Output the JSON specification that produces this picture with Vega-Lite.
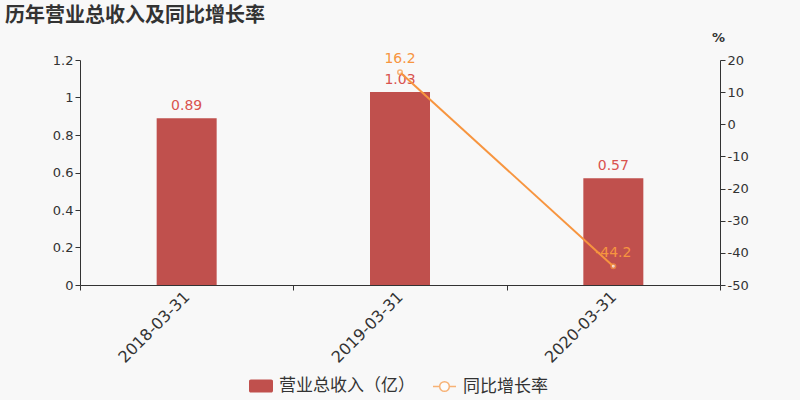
{
  "$schema": "https://vega.github.io/schema/vega-lite/v6.json",
  "autosize": "none",
  "width": 640,
  "height": 225,
  "padding": {"left": 80, "top": 60, "right": 80, "bottom": 115},
  "background": "#f8f8f8",
  "config": {
    "view": {"stroke": null},
    "font": "DejaVu Sans",
    "axis": {"labelColor": "#333", "domainColor": "#333", "tickColor": "#333", "labelFontSize": 13, "grid": false}
  },
  "title": {
    "text": "历年营业总收入及同比增长率",
    "anchor": "start",
    "frame": "group",
    "dx": -75,
    "offset": 5,
    "fontSize": 20,
    "fontWeight": "bold",
    "color": "#333",
    "font": "Noto Sans CJK SC"
  },
  "data": {
    "values": [
      {"date": "2018-03-31", "revenue": 0.89, "growth": null},
      {"date": "2019-03-31", "revenue": 1.03, "growth": 16.2},
      {"date": "2020-03-31", "revenue": 0.57, "growth": -44.2}
    ]
  },
  "encoding": {
    "x": {
      "field": "date",
      "type": "nominal",
      "title": null,
      "scale": {"paddingInner": 0, "paddingOuter": 0},
      "axis": {"labelAngle": -45, "labelAlign": "right", "labelBaseline": "middle", "labelFontSize": 16, "tickBand": "extent", "labelPadding": 4, "tickSize": 5}
    }
  },
  "layer": [
    {
      "encoding": {
        "y": {"field": "revenue", "type": "quantitative", "title": null, "scale": {"domain": [0, 1.2]}, "axis": {"orient": "left", "values": [0, 0.2, 0.4, 0.6, 0.8, 1, 1.2], "format": ".1~f", "tickSize": 5}}
      },
      "layer": [
        {
          "mark": {"type": "bar", "width": 60},
          "encoding": {
            "color": {"datum": "营业总收入（亿）", "scale": {"range": ["#c0504d"]}, "legend": {"orient": "none", "legendX": 169, "legendY": 314, "title": null, "symbolType": "M-0.85,-0.54 H0.85 A0.15,0.15 0 0 1 1,-0.39 V0.39 A0.15,0.15 0 0 1 0.85,0.54 H-0.85 A0.15,0.15 0 0 1 -1,0.39 V-0.39 A0.15,0.15 0 0 1 -0.85,-0.54 Z", "symbolSize": 576, "symbolStrokeWidth": 0, "symbolOpacity": 1, "labelFontSize": 17, "labelColor": "#333", "labelFont": "Noto Sans CJK SC", "labelOffset": 6, "padding": 0}}
          }
        },
        {
          "mark": {"type": "text", "baseline": "bottom", "dy": -5, "fontSize": 14, "color": "#d9534f"},
          "encoding": {
            "text": {"field": "revenue", "type": "nominal"}
          }
        }
      ]
    },
    {
      "encoding": {
        "y": {"field": "growth", "type": "quantitative", "title": "%", "scale": {"domain": [-50, 20]}, "axis": {"orient": "right", "values": [-50, -40, -30, -20, -10, 0, 10, 20], "labelExpr": "replace(datum.label, '\u2212', '-')", "tickSize": 5, "titleAngle": 0, "titleX": -2, "titleY": -16, "titleAlign": "center", "titleBaseline": "bottom", "titleFontSize": 13, "titleFontWeight": "bold", "titleColor": "#333"}}
      },
      "layer": [
        {
          "mark": {"type": "line", "strokeWidth": 2},
          "encoding": {
            "stroke": {"datum": "同比增长率", "scale": {"range": ["#f7953f"]}, "legend": {"orient": "none", "legendX": 352, "legendY": 314, "title": null, "symbolType": "M-1,0 H-0.42 M0.42,0 H1 M0.42,0 A0.42,0.42 0 1 1 -0.42,0 A0.42,0.42 0 1 1 0.42,0", "symbolSize": 529, "symbolStrokeColor": "#f9b27a", "symbolFillColor": "#ffffff", "symbolStrokeWidth": 1.5, "labelFontSize": 17, "labelColor": "#333", "labelFont": "Noto Sans CJK SC", "labelOffset": 6, "padding": 0}}
          }
        },
        {
          "mark": {"type": "point", "filled": true, "fill": "#ffffff", "strokeWidth": 1.5, "size": 20},
          "encoding": {
            "stroke": {"datum": "同比增长率"}
          }
        },
        {
          "mark": {"type": "text", "baseline": "bottom", "dy": -6, "fontSize": 14, "color": "#f7953f"},
          "encoding": {
            "text": {"field": "growth", "type": "nominal"}
          }
        }
      ]
    }
  ],
  "resolve": {"scale": {"y": "independent"}}
}
